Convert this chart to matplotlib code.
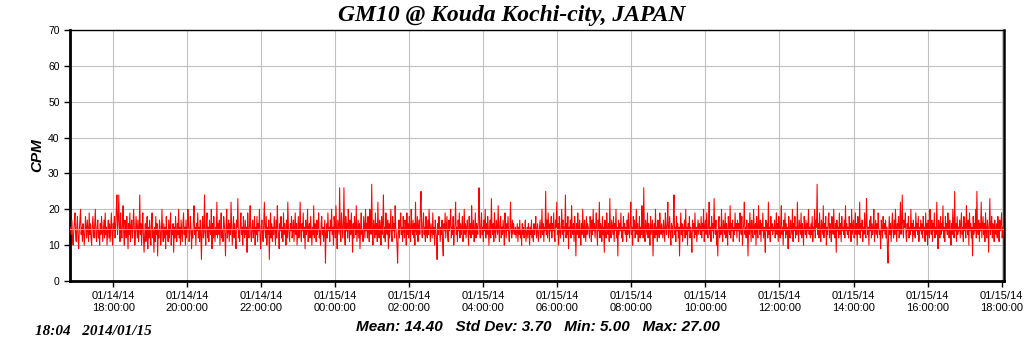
import matplotlib
matplotlib.use("Agg")
import matplotlib.pyplot as plt
import matplotlib.dates as mdates
import numpy as np
import pandas as pd

# counts per minute, one value a minute from 01/14 16:51 to 01/15 18:04
cpm = [
    15,13,17,12,10,14,16,19,13,11,15,18,12,9,14,17,20,13,15,11,16,14,10,13,18,15,12,17,14,11,19,13,16,12,10,15,18,14,12,16,20,13,11,15,17,12,14,10,16,13,18,15,11,14,17,12,19,13,15,10,
    14,17,12,16,11,15,19,13,10,16,14,18,12,15,20,24,13,17,24,15,11,19,14,12,16,21,13,10,17,15,12,18,14,9,16,13,19,11,15,17,12,14,20,16,10,13,18,15,12,17,11,14,24,13,16,10,15,19,12,8,
    13,16,11,14,18,9,15,12,17,13,10,16,19,12,14,8,15,11,18,13,16,7,14,12,17,15,10,13,20,14,11,16,12,15,9,18,13,14,11,17,12,15,19,10,14,13,16,8,15,12,18,14,11,16,13,20,12,15,10,17,
    14,11,16,19,13,15,10,17,12,14,20,16,11,13,18,15,9,14,12,17,21,13,15,10,16,14,19,12,15,11,17,13,6,15,18,12,14,24,13,10,16,19,12,15,11,17,14,13,20,9,16,12,18,14,11,15,13,22,12,16,
    13,17,10,15,19,12,14,11,18,16,13,7,15,20,12,14,17,11,16,13,22,15,10,14,18,12,16,13,9,17,15,23,12,14,11,16,19,13,15,10,18,14,12,17,13,15,8,19,14,12,16,21,13,11,15,17,12,14,18,10,
    15,13,18,11,16,14,20,12,9,15,17,13,11,16,22,14,12,18,10,15,13,17,6,14,19,12,16,11,15,13,18,14,10,17,12,21,15,13,9,16,14,18,12,15,11,19,13,16,14,10,17,12,22,15,13,11,16,14,18,12,
    14,17,11,15,19,13,16,10,14,18,12,15,22,13,11,16,14,19,12,15,9,17,13,14,20,11,15,16,12,18,14,10,15,13,21,12,16,14,11,17,13,15,19,12,14,10,16,18,13,15,11,14,17,5,13,16,12,19,14,15,
    11,17,14,20,13,15,10,18,16,12,21,14,9,17,15,13,26,14,11,19,16,12,15,26,13,10,18,14,16,12,20,15,11,17,13,19,14,8,16,12,18,15,13,21,11,14,17,12,16,9,15,19,13,14,11,18,15,12,20,14,
    16,12,18,14,11,20,15,13,27,14,10,17,15,12,19,13,16,11,22,14,12,17,15,10,18,13,16,24,12,15,11,19,14,13,17,9,16,12,15,20,13,11,18,14,16,12,21,15,13,10,5,14,17,12,16,19,13,15,11,18,
    14,12,17,15,10,19,13,16,12,18,14,11,20,15,13,17,12,16,10,22,14,13,18,11,15,17,13,21,25,14,12,16,19,13,15,11,18,14,12,17,13,20,15,11,16,14,12,19,13,15,10,17,14,12,6,16,13,18,15,11,
    15,13,17,10,7,16,14,19,12,15,18,13,11,17,14,16,20,12,15,13,18,10,14,16,22,13,15,11,17,14,19,12,16,13,15,18,11,14,20,13,16,12,15,17,14,10,18,13,16,12,21,15,13,17,11,14,19,12,16,15,
    13,18,26,14,12,16,19,13,15,11,17,14,20,12,16,13,18,15,10,14,17,12,23,15,13,16,11,19,14,12,17,15,13,21,14,11,16,18,12,15,13,17,14,10,19,15,12,16,14,18,13,11,15,22,14,12,17,13,16,14,
    13,15,12,14,16,11,15,13,17,12,14,10,16,13,15,12,14,17,11,13,15,12,16,14,10,15,13,17,12,14,11,16,13,15,18,12,14,16,11,13,15,17,12,14,20,13,16,11,15,14,25,13,17,12,19,15,11,16,14,18,
    12,16,14,19,13,11,17,15,22,13,16,10,18,14,12,15,20,13,17,11,15,14,24,12,16,13,18,9,15,14,17,12,21,15,13,16,11,18,14,7,16,13,19,15,12,17,14,10,16,13,20,15,12,17,14,11,18,13,16,15,
    14,12,18,15,11,17,13,20,14,16,12,15,19,13,10,17,14,22,12,16,15,11,18,13,15,8,17,14,12,19,15,13,16,11,23,14,12,17,15,13,18,11,16,14,20,12,15,7,17,13,16,14,19,12,15,11,18,14,16,13,
    15,11,17,13,19,14,12,16,22,13,15,10,18,14,17,12,15,20,13,16,11,14,18,12,15,13,21,16,12,26,14,11,17,15,13,19,12,16,14,10,18,13,15,17,7,14,16,12,20,13,15,11,17,14,12,19,15,13,16,14,
    12,17,14,11,19,15,13,16,22,12,14,18,13,10,16,15,12,17,24,13,15,11,18,14,16,12,15,7,14,19,13,16,11,15,14,17,12,20,13,15,10,16,14,18,12,15,13,8,17,14,16,12,19,13,15,11,14,17,13,16,
    15,13,18,12,16,14,20,11,15,17,13,19,14,12,16,22,13,15,11,18,14,16,12,23,15,13,17,10,14,7,16,18,12,15,13,20,14,11,17,15,13,19,12,16,14,10,18,15,13,21,12,16,14,17,11,15,13,19,14,16,
    12,17,14,16,11,19,15,13,18,10,14,16,22,13,15,12,17,14,7,16,13,19,15,11,17,14,12,20,15,13,16,10,18,14,12,21,15,13,17,11,16,14,19,12,15,13,8,17,14,16,12,22,13,15,11,18,14,16,13,15,
    14,17,12,15,19,13,16,11,18,14,12,16,21,13,15,10,17,14,19,12,16,13,15,9,18,14,12,17,15,13,20,11,16,14,18,12,15,13,22,14,11,17,15,13,19,12,16,14,10,18,15,13,17,12,16,14,20,13,15,12,
    16,13,18,11,15,14,20,12,17,15,27,13,16,12,19,14,11,17,15,13,21,12,16,14,18,10,15,13,17,19,12,16,14,11,18,15,13,20,14,12,16,8,17,14,15,12,19,13,16,11,18,14,15,13,17,12,21,14,16,13,
    15,12,18,14,16,11,20,13,15,17,12,14,19,13,16,10,18,15,13,22,12,16,14,17,11,15,13,19,14,12,23,16,13,15,10,17,14,18,12,16,13,15,20,11,14,17,13,16,12,19,15,13,14,9,17,15,12,18,14,16,
    13,17,12,15,9,5,14,18,13,16,11,15,19,14,12,17,13,20,15,11,16,14,18,12,15,22,13,16,24,14,12,17,15,19,13,11,16,14,18,12,15,13,20,14,16,11,17,13,15,12,19,14,16,13,18,11,15,14,17,13,
    16,12,18,14,15,11,19,13,16,10,17,14,12,20,15,13,17,11,16,14,19,12,15,13,22,14,9,17,15,12,18,13,16,14,21,12,15,11,18,14,16,13,19,15,12,17,14,10,16,13,20,15,12,25,14,16,11,18,13,15,
    14,17,12,16,19,13,15,11,18,14,16,12,21,15,13,17,10,19,14,16,12,15,7,18,13,16,14,20,12,25,15,13,17,11,16,14,22,12,15,18,13,16,11,19,14,12,17,15,8,16,23,13,15,18,12,16,14,11,17,14,
    13,16,12,18,15,11,17,14,16,19,12,15,13,16,
]

start_time = "2014-01-14 16:51"
x_start = "2014-01-14 16:50"
x_end = "2014-01-15 18:04"
title = "GM10 @ Kouda Kochi-city, JAPAN"
stamp = "18:04   2014/01/15"
mean_val = 14.40
std_val = 3.70
min_val = 5.00
max_val = 27.00

times = pd.date_range(start_time, periods=len(cpm), freq="1min")

fig = plt.figure(figsize=(10.24, 3.51), dpi=100)
ax = fig.add_axes([0.0684, 0.1994, 0.9121, 0.7151])

ax.plot(times, cpm, color="#ff0000", lw=0.75, zorder=3)
ax.axhline(mean_val, color="#ffa040", lw=0.8, zorder=4)

ax.set_xlim(pd.Timestamp(x_start), pd.Timestamp(x_end))
ax.set_ylim(0, 70)
ax.set_yticks(range(0, 71, 10))
ax.xaxis.set_major_locator(mdates.HourLocator(byhour=range(0, 24, 2)))
ax.xaxis.set_major_formatter(mdates.DateFormatter("%m/%d/%y\n%H:%M:%S"))

ax.grid(True, color="#c0c0c0", lw=0.8, zorder=0)
ax.tick_params(axis="both", labelsize=7.5, length=4, width=1, direction="out")
ax.tick_params(axis="x", labelsize=8)
for lab in ax.get_xticklabels() + ax.get_yticklabels():
    lab.set_family("Liberation Sans")

ax.spines["left"].set_linewidth(2)
ax.spines["bottom"].set_linewidth(2)
ax.spines["right"].set_linewidth(1.8)
ax.spines["top"].set_linewidth(1)

ax.set_ylabel("CPM", fontsize=11, fontweight="bold", fontstyle="italic",
              family="Liberation Sans", labelpad=3)

fig.text(0.5, 0.955, title, ha="center", va="center", fontsize=17,
         fontweight="bold", fontstyle="italic", family="Liberation Serif")
fig.text(0.034, 0.055, stamp, ha="left", va="center", fontsize=11,
         fontweight="bold", fontstyle="italic", family="Liberation Serif")
stats = "Mean: %.2f   Std Dev: %.2f   Min: %.2f   Max: %.2f" % (mean_val, std_val, min_val, max_val)
fig.text(0.525, 0.067, stats, ha="center", va="center", fontsize=11,
         fontweight="bold", fontstyle="italic", family="Liberation Sans")

fig.savefig("out.png", dpi=100)
